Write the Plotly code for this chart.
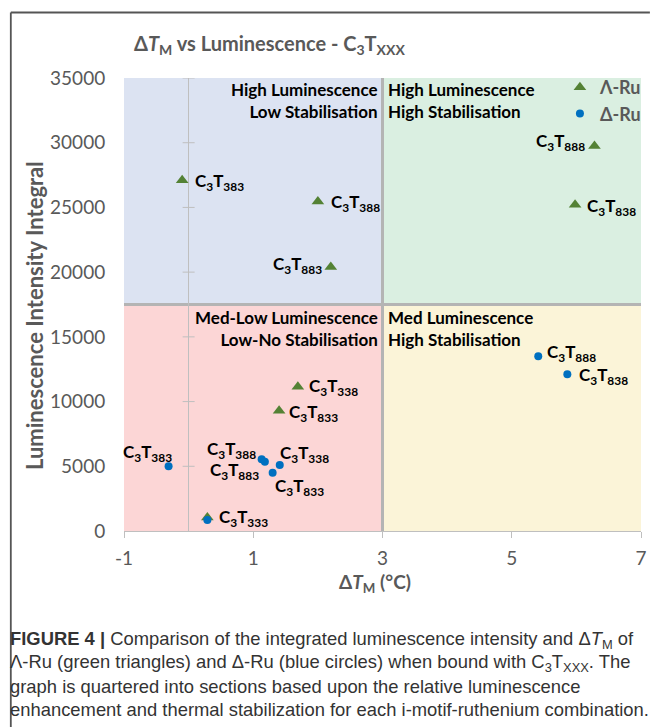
import plotly.graph_objects as go

# ---------------- data ----------------
lambda_labels = ["383", "388", "883", "888", "838", "338", "833", "333"]
lambda_dtm = [-0.10, 2.00, 2.20, 6.28, 5.98, 1.69, 1.40, 0.29]
lambda_lum = [27100, 25450, 20400, 29750, 25200, 11150, 9300, 1050]

delta_labels = ["383", "388", "883", "338", "833", "888", "838", "333"]
delta_dtm = [-0.31, 1.13, 1.18, 1.41, 1.30, 5.41, 5.86, 0.29]
delta_lum = [5000, 5540, 5360, 5100, 4500, 13500, 12120, 850]

x_ticks = [-1, 1, 3, 5, 7]
y_ticks = [0, 5000, 10000, 15000, 20000, 25000, 30000, 35000]
x_split = 3
y_split = 17500

quadrant_text = {
    "tl": "High Luminescence<br>Low Stabilisation",
    "tr": "High Luminescence<br>High Stabilisation",
    "bl": "Med-Low Luminescence<br>Low-No Stabilisation",
    "br": "Med Luminescence<br>High Stabilisation",
}

caption_lines = [
    "<b>FIGURE 4 |</b> Comparison of the integrated luminescence intensity and Δ<i>T</i><sub>M</sub> of",
    "Λ-Ru (green triangles) and Δ-Ru (blue circles) when bound with C<sub>3</sub>T<sub>XXX</sub>. The",
    "graph is quartered into sections based upon the relative luminescence",
    "enhancement and thermal stabilization for each i-motif-ruthenium combination.",
]

# ---------------- label placement (style) ----------------
# (xanchor, xshift, yshift)
lambda_off = {
    "383": ("left", 11, -2),
    "388": ("left", 11, -1),
    "883": ("right", -7, 2),
    "888": ("right", -7, 4),
    "838": ("left", 10, -2),
    "338": ("left", 9, 0),
    "833": ("left", 8, -2),
    "333": ("left", 10, -1),
}
delta_off = {
    "383": ("right", 5, 13),
    "388": ("right", -4, 9),
    "883": ("right", -4, -9),
    "338": ("left", -2, 11),
    "833": ("left", 0, -14),
    "888": ("left", 7, 3),
    "838": ("left", 10, -2),
    "333": None,
}

GREEN = "#548235"
BLUE = "#0070C0"
GRAY = "#595959"
AX = "#BFBFBF"
FONT = "Lato, 'Open Sans', sans-serif"

W, H = 657, 728
# plot area in screenshot pixels: x 124..647, y 78..531
PL, PR, PT, PB = 124, 647, 78, 531
L, T = PL, PT
R, B = W - PR, H - PB
PW, PH = PR - PL, PB - PT


def px_x(p):
    return (p - PL) / PW


def px_y(p):
    return (PB - p) / PH


def lab(code):
    return "C<sub>3</sub>T<sub>%s</sub>" % code


fig = go.Figure()
fig.add_trace(go.Scatter(
    x=lambda_dtm, y=lambda_lum, mode="markers", name="Λ-Ru",
    marker=dict(symbol="triangle-up", size=11, color=GREEN)))
fig.add_trace(go.Scatter(
    x=delta_dtm, y=delta_lum, mode="markers", name="Δ-Ru",
    marker=dict(symbol="circle", size=8, color=BLUE)))

shapes = []
panels = [
    (-1, x_split, y_split, 35000, "#DCE3F2"),
    (x_split, 7, y_split, 35000, "#DAEFE1"),
    (-1, x_split, 0, y_split, "#FCD6D6"),
    (x_split, 7, 0, y_split, "#FBF4D8"),
]
for x0, x1, y0, y1, c in panels:
    shapes.append(dict(type="rect", xref="x", yref="y", x0=x0, x1=x1, y0=y0, y1=y1,
                       fillcolor=c, line=dict(width=0), layer="below"))
shapes.append(dict(type="line", xref="x", yref="y", x0=x_split, x1=x_split, y0=0, y1=35000,
                   line=dict(color="#B4B4B4", width=3), layer="below"))
shapes.append(dict(type="line", xref="x", yref="y", x0=-1, x1=7, y0=y_split, y1=y_split,
                   line=dict(color="#B4B4B4", width=3), layer="below"))
for v in y_ticks[1:]:
    shapes.append(dict(type="line", xref="x", yref="y", xsizemode="pixel", xanchor=0,
                       x0=-6, x1=6, y0=v, y1=v, line=dict(color=AX, width=1), layer="between"))
# frame (left and top)
shapes.append(dict(type="line", xref="paper", yref="paper", x0=px_x(9.5), x1=px_x(9.5),
                   y0=px_y(12.5), y1=px_y(727), line=dict(color="#555555", width=1.8)))
shapes.append(dict(type="line", xref="paper", yref="paper", x0=px_x(9.5), x1=px_x(656),
                   y0=px_y(12.5), y1=px_y(12.5), line=dict(color="#555555", width=1.8)))

ann = []
lab_font = dict(family=FONT, size=17, color="black", weight="bold")
for code, x, y in zip(lambda_labels, lambda_dtm, lambda_lum):
    a, xs, ys = lambda_off[code]
    ann.append(dict(x=x, y=y, xref="x", yref="y", text=lab(code), showarrow=False,
                    xanchor=a, yanchor="middle", xshift=xs, yshift=ys, font=lab_font))
for code, x, y in zip(delta_labels, delta_dtm, delta_lum):
    o = delta_off[code]
    if o is None:
        continue
    a, xs, ys = o
    ann.append(dict(x=x, y=y, xref="x", yref="y", text=lab(code), showarrow=False,
                    xanchor=a, yanchor="middle", xshift=xs, yshift=ys, font=lab_font))

q_font = dict(family=FONT, size=17, color="black", weight="bold")
ann.append(dict(x=x_split, y=35000, xref="x", yref="y", text=quadrant_text["tl"], showarrow=False,
                xanchor="right", yanchor="top", align="right", xshift=-3, yshift=1, font=q_font))
ann.append(dict(x=x_split, y=35000, xref="x", yref="y", text=quadrant_text["tr"], showarrow=False,
                xanchor="left", yanchor="top", align="left", xshift=3, yshift=1, font=q_font))
ann.append(dict(x=x_split, y=y_split, xref="x", yref="y", text=quadrant_text["bl"], showarrow=False,
                xanchor="right", yanchor="top", align="right", xshift=-3, yshift=0, font=q_font))
ann.append(dict(x=x_split, y=y_split, xref="x", yref="y", text=quadrant_text["br"], showarrow=False,
                xanchor="left", yanchor="top", align="left", xshift=3, yshift=0, font=q_font))

ann.append(dict(x=px_x(271), y=px_y(44), xref="paper", yref="paper", showarrow=False,
                text="Δ<i>T</i><sub>M</sub> vs Luminescence - C<sub>3</sub>T<sub>XXX</sub>",
                xanchor="center", yanchor="middle",
                font=dict(family=FONT, size=20, color=GRAY, weight="bold")))
ann.append(dict(x=px_x(33), y=px_y(316), xref="paper", yref="paper", showarrow=False,
                text="Luminescence Intensity Integral", textangle=-90,
                xanchor="center", yanchor="middle",
                font=dict(family=FONT, size=22, color=GRAY, weight="bold")))
ann.append(dict(x=px_x(378), y=px_y(583), xref="paper", yref="paper", showarrow=False,
                text="Δ<i>T</i><sub>M</sub> (°C)",
                xanchor="center", yanchor="middle",
                font=dict(family=FONT, size=19, color=GRAY, weight="bold")))

cap_y = [640, 663, 686, 709]
for line, yy in zip(caption_lines, cap_y):
    ann.append(dict(x=px_x(9), y=px_y(yy), xref="paper", yref="paper", showarrow=False,
                    text=line, xanchor="left", yanchor="middle", align="left", xshift=-2,
                    font=dict(family="'Liberation Sans', Arial, sans-serif",
                              size=18.4, color="#333333")))

fig.update_layout(
    width=W, height=H,
    margin=dict(l=L, r=R, t=T, b=B, pad=0),
    paper_bgcolor="white", plot_bgcolor="white",
    shapes=shapes, annotations=ann,
    font=dict(family=FONT, color=GRAY),
    showlegend=True,
    legend=dict(x=1 + 6 / PW, xanchor="right", y=1 + 9 / PH, yanchor="top",
                bgcolor="rgba(0,0,0,0)",
                font=dict(family=FONT, size=18, color=GRAY, weight="bold"),
                tracegroupgap=0, itemwidth=30),
    xaxis=dict(range=[-1, 7], tickvals=x_ticks, ticktext=[str(v) for v in x_ticks],
               showgrid=False, zeroline=True, zerolinecolor=AX, zerolinewidth=1,
               showline=True, linecolor=AX, linewidth=1,
               ticks="outside", ticklen=6, tickcolor=AX, ticklabelstandoff=4,
               tickfont=dict(family=FONT, size=19, color=GRAY), fixedrange=True),
    yaxis=dict(range=[0, 35000], tickvals=y_ticks, ticktext=[str(v) for v in y_ticks],
               showgrid=False, zeroline=False,
               showline=False, ticks="outside", ticklen=14, tickcolor="rgba(0,0,0,0)",
               tickfont=dict(family=FONT, size=19, color=GRAY), fixedrange=True),
)

# remove the browser's default page margin so the figure sits at the window origin
fig.write_html("out.html",
               config={"displayModeBar": False},
               post_script="document.body.style.margin='0';document.body.style.overflow='hidden';")
